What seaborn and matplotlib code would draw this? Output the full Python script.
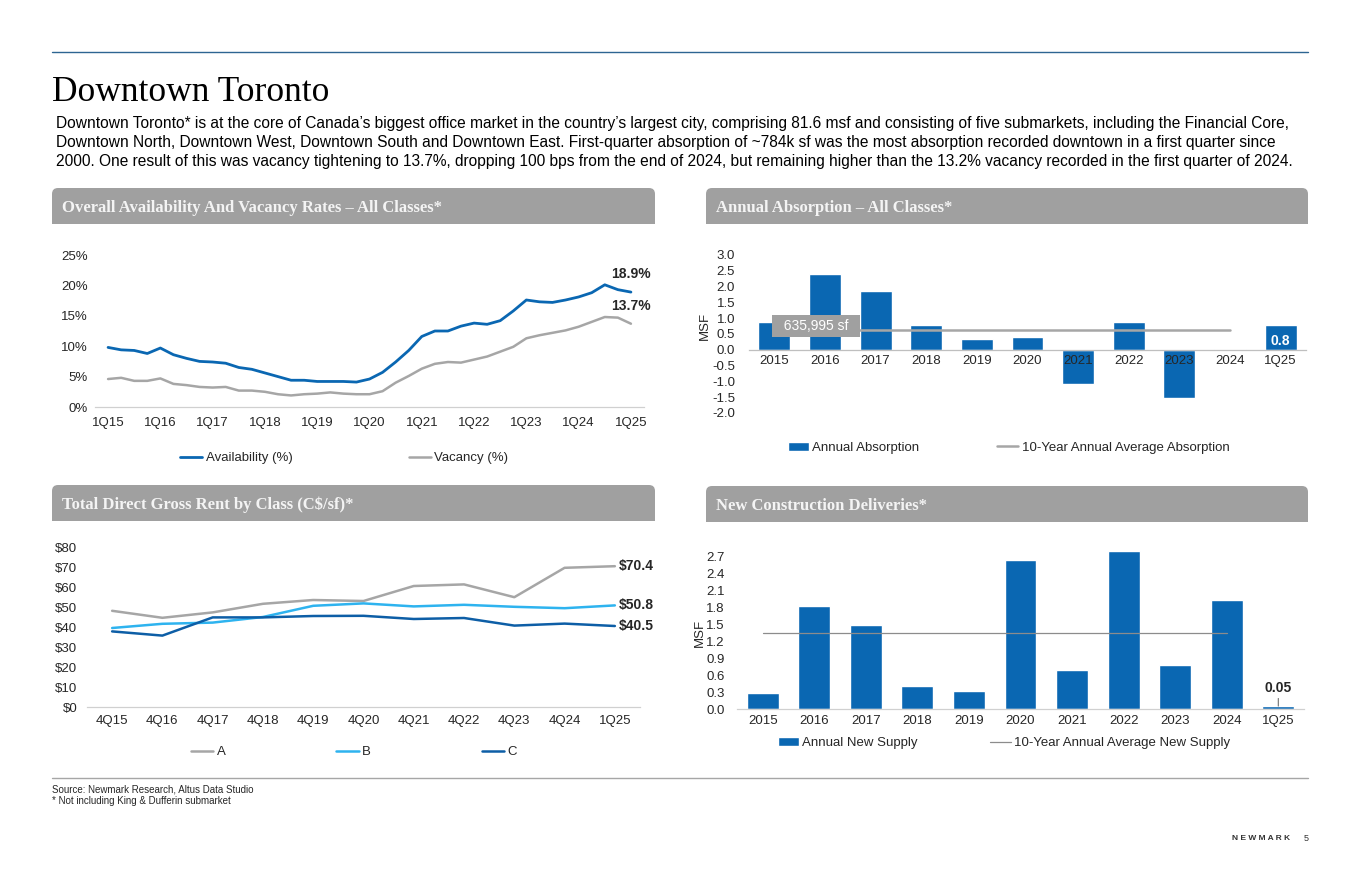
import numpy as np
import pandas as pd
import matplotlib
matplotlib.use('Agg')
import matplotlib.pyplot as plt
from matplotlib.patches import FancyBboxPatch, Rectangle
from matplotlib.lines import Line2D
from matplotlib.ticker import FuncFormatter, MultipleLocator
import seaborn as sns

# --- data ---
quarters = [f"{q}Q{y}" for y in range(15, 26) for q in range(1, 5)][:41]
availability = [9.8, 9.4, 9.3, 8.8, 9.7, 8.6, 8.0, 7.5, 7.4, 7.2, 6.5, 6.2,
                5.6, 5.0, 4.4, 4.4, 4.2, 4.2, 4.2, 4.1, 4.6, 5.7, 7.4, 9.3,
                11.6, 12.5, 12.5, 13.3, 13.8, 13.6, 14.2, 15.8, 17.6, 17.3,
                17.2, 17.6, 18.1, 18.8, 20.1, 19.3, 18.9]
vacancy = [4.6, 4.8, 4.3, 4.3, 4.7, 3.8, 3.6, 3.3, 3.2, 3.3, 2.7, 2.7,
           2.5, 2.1, 1.9, 2.1, 2.2, 2.4, 2.2, 2.1, 2.1, 2.6, 4.0, 5.1,
           6.3, 7.1, 7.4, 7.3, 7.8, 8.3, 9.1, 9.9, 11.3, 11.8, 12.2, 12.6,
           13.2, 14.0, 14.8, 14.7, 13.7]

years = ['2015', '2016', '2017', '2018', '2019', '2020', '2021', '2022', '2023', '2024', '1Q25']
absorption = [0.89, 2.39, 1.87, 0.80, 0.33, 0.41, -1.07, 0.89, -1.51, 0.03, 0.79]
avg_absorption_sf = 635995
new_supply = [0.29, 1.82, 1.48, 0.41, 0.32, 2.63, 0.69, 2.80, 0.78, 1.93, 0.05]
avg_supply = 1.35

rent_periods = ['4Q15', '4Q16', '4Q17', '4Q18', '4Q19', '4Q20', '4Q21', '4Q22', '4Q23', '4Q24', '1Q25']
rent_a = [48.1, 44.6, 47.3, 51.6, 53.5, 53.0, 60.5, 61.3, 54.9, 69.6, 70.4]
rent_b = [39.5, 41.6, 42.2, 45.0, 50.6, 51.8, 50.3, 51.1, 50.1, 49.4, 50.8]
rent_c = [37.8, 35.7, 44.8, 44.8, 45.5, 45.6, 44.0, 44.5, 40.7, 41.7, 40.5]

BLUE = '#0a67b2'
GRAY = '#a6a6a6'
LIGHTBLUE = '#2eb3ef'
DARKBLUE = '#0d5ea6'
TXT = '#262626'

sns.set_theme(style='white')
plt.rcParams['font.family'] = ['Liberation Sans', 'DejaVu Sans']

W, H = 1360, 880
fig = plt.figure(figsize=(W / 100, H / 100), dpi=100)


def box(l, t, r, b):
    return [l / W, 1 - b / H, (r - l) / W, (b - t) / H]


def fxy(x, y):
    return x / W, 1 - y / H


# --- page furniture ---
fig.add_artist(Line2D([52 / W, 1308 / W], [1 - 52 / H] * 2, color='#2d6592', lw=1))
fig.add_artist(Line2D([52 / W, 1308 / W], [1 - 778 / H] * 2, color='#a6a6a6', lw=1))

fig.text(*fxy(52, 101), 'Downtown Toronto', family='Liberation Serif', fontsize=25.5,
         color='black', va='baseline')
para = [
    "Downtown Toronto* is at the core of Canada’s biggest office market in the country’s largest city, comprising 81.6 msf and consisting of five submarkets, including the Financial Core,",
    "Downtown North, Downtown West, Downtown South and Downtown East. First-quarter absorption of ~784k sf was the most absorption recorded downtown in a first quarter since",
    "2000. One result of this was vacancy tightening to 13.7%, dropping 100 bps from the end of 2024, but remaining higher than the 13.2% vacancy recorded in the first quarter of 2024.",
]
for i, line in enumerate(para):
    fig.text(*fxy(56, 128 + i * 19), line, fontsize=11.2, color='black', va='baseline')

headers = [
    (52, 188, 655, 224, 'Overall Availability And Vacancy Rates – All Classes*'),
    (706, 188, 1308, 224, 'Annual Absorption – All Classes*'),
    (52, 485, 655, 521, 'Total Direct Gross Rent by Class (C$/sf)*'),
    (706, 486, 1308, 522, 'New Construction Deliveries*'),
]
for l, t, r, b, title in headers:
    fig.patches.append(FancyBboxPatch((l / 100, (H - b) / 100), (r - l) / 100, (b - t) / 100,
                                      boxstyle='round,pad=0,rounding_size=0.06',
                                      transform=fig.dpi_scale_trans, fc='#a0a0a0', ec='none'))
    fig.patches.append(Rectangle((l / 100, (H - b) / 100), (r - l) / 100, (b - t) / 200,
                                 transform=fig.dpi_scale_trans, fc='#a0a0a0', ec='none'))
    fig.text(*fxy(l + 10, (t + b) / 2 + 2), title, family='Liberation Serif', weight='bold',
             fontsize=12, color='#f4f4f4', va='center')

fig.text(*fxy(52, 789), 'Source: Newmark Research, Altus Data Studio', fontsize=7, color=TXT, va='center')
fig.text(*fxy(52, 801), '* Not including King & Dufferin submarket', fontsize=7, color=TXT, va='center')
fig.text(*fxy(1290, 838), 'N E W M A R K', fontsize=6, weight='bold', color='#333333', va='center', ha='right')
fig.text(*fxy(1306, 838), '5', fontsize=6.5, color='#333333', va='center', ha='center')


def clean(ax):
    for s in ['top', 'right', 'left']:
        ax.spines[s].set_visible(False)
    ax.spines['bottom'].set_color('#d0d0d0')
    ax.spines['bottom'].set_linewidth(0.9)
    ax.tick_params(length=0, labelsize=9.5, labelcolor=TXT)
    ax.set_xlabel('')
    ax.set_ylabel('')


# --- availability & vacancy ---
ax1 = fig.add_axes(box(95, 255, 644, 407))
df1 = pd.DataFrame({'pos': range(len(quarters)), 'Availability (%)': availability,
                    'Vacancy (%)': vacancy})
sns.lineplot(data=df1, x='pos', y='Vacancy (%)', color=GRAY, lw=1.8, ax=ax1, label='Vacancy (%)')
sns.lineplot(data=df1, x='pos', y='Availability (%)', color=BLUE, lw=2.0, ax=ax1, label='Availability (%)')
ax1.set_xlim(-1, len(quarters))
ax1.set_ylim(0, 25)
ax1.yaxis.set_major_locator(MultipleLocator(5))
ax1.yaxis.set_major_formatter(FuncFormatter(lambda v, _: f"{v:.0f}%"))
ax1.set_xticks(range(0, len(quarters), 4))
ax1.set_xticklabels(quarters[::4])
clean(ax1)
ax1.tick_params(axis='x', pad=7)
ax1.tick_params(axis='y', pad=5)
last = len(quarters) - 1
for series in (availability, vacancy):
    ax1.annotate(f"{series[-1]}%", xy=(last, series[-1]), xytext=(0, 8), textcoords='offset points',
                 ha='center', va='bottom', fontsize=10, weight='bold', color=TXT)
h1, l1 = ax1.get_legend_handles_labels()
ax1.legend(h1[::-1], l1[::-1], loc='center left', bbox_to_anchor=fxy(180, 458),
           bbox_transform=fig.transFigure, ncol=2, frameon=False, borderpad=0, borderaxespad=0,
           handlelength=1.7, handletextpad=0.25, columnspacing=8.8, fontsize=9.5, labelcolor=TXT)

# --- annual absorption ---
ax2 = fig.add_axes(box(749, 255, 1306, 413))
sns.barplot(x=years, y=absorption, color=BLUE, saturation=1, width=0.63, ax=ax2,
            label='Annual Absorption')
avg_abs = avg_absorption_sf / 1e6
avg_line, = ax2.plot(range(len(years) - 1), [avg_abs] * (len(years) - 1), color=GRAY, lw=1.8,
                     label='10-Year Annual Average Absorption')
ax2.set_xlim(-0.5, len(years) - 0.5)
ax2.set_ylim(-2, 3)
ax2.yaxis.set_major_locator(MultipleLocator(0.5))
ax2.yaxis.set_major_formatter(FuncFormatter(lambda v, _: f"{v:.1f}"))
clean(ax2)
ax2.spines['bottom'].set_position(('data', 0))
ax2.spines['bottom'].set_color('#bfbfbf')
ax2.xaxis.set_zorder(5)
ax2.tick_params(axis='x', pad=4)
ax2.tick_params(axis='y', pad=10)
ax2.set_ylabel('MSF', fontsize=9.5, color=TXT)
ax2.yaxis.set_label_coords(-0.068, 0.55)
ax2.text(0.82, avg_abs + 0.12, f"  {avg_absorption_sf:,} sf  ", ha='center', va='center', fontsize=10,
         color='white', zorder=6, bbox=dict(boxstyle='square,pad=0.3', fc='#a0a0a0', ec='none'))
bars2 = ax2.containers[0]
ax2.bar_label(bars2, labels=[''] * (len(years) - 1) + [f"{absorption[-1]:.1f}"], label_type='edge',
              padding=-17, color='white', weight='bold', fontsize=10)
ax2.legend([bars2, avg_line], ['Annual Absorption', '10-Year Annual Average Absorption'],
           loc='center left', bbox_to_anchor=fxy(788, 448), bbox_transform=fig.transFigure, ncol=2,
           frameon=False, borderpad=0, borderaxespad=0, handlelength=1.6, handletextpad=0.25,
           columnspacing=5.9, fontsize=9.5, labelcolor=TXT)

# --- rent ---
ax3 = fig.add_axes(box(87, 547, 640, 707))
df3 = pd.DataFrame({'pos': range(len(rent_periods)), 'A': rent_a, 'B': rent_b, 'C': rent_c})
for name, col in [('A', GRAY), ('B', LIGHTBLUE), ('C', DARKBLUE)]:
    sns.lineplot(data=df3, x='pos', y=name, color=col, lw=1.8, ax=ax3, label=name)
ax3.set_xlim(-0.5, len(rent_periods) - 0.5)
ax3.set_ylim(0, 80)
ax3.yaxis.set_major_locator(MultipleLocator(10))
ax3.yaxis.set_major_formatter(FuncFormatter(lambda v, _: f"${v:.0f}"))
ax3.set_xticks(range(len(rent_periods)))
ax3.set_xticklabels(rent_periods)
clean(ax3)
ax3.tick_params(axis='x', pad=6)
ax3.tick_params(axis='y', pad=7)
for series in (rent_a, rent_b, rent_c):
    ax3.annotate(f"${series[-1]:.1f}", xy=(len(rent_periods) - 1, series[-1]), xytext=(3, 0),
                 textcoords='offset points', ha='left', va='center', fontsize=10, weight='bold',
                 color=TXT)
ax3.legend(loc='center left', bbox_to_anchor=fxy(191, 752), bbox_transform=fig.transFigure, ncol=3,
           frameon=False, borderpad=0, borderaxespad=0, handlelength=1.7, handletextpad=0.25,
           columnspacing=8.4, fontsize=9.5, labelcolor=TXT)

# --- new construction ---
ax4 = fig.add_axes(box(737, 548, 1304, 709))
sns.barplot(x=years, y=new_supply, color=BLUE, saturation=1, width=0.62, ax=ax4,
            label='Annual New Supply')
sup_line, = ax4.plot(range(len(years) - 1), [avg_supply] * (len(years) - 1), color='#8c8c8c', lw=0.9,
                     label='10-Year Annual Average New Supply')
ax4.set_xlim(-0.5, len(years) - 0.5)
ax4.set_ylim(0, 2.85)
ax4.set_yticks(np.arange(0, 2.71, 0.3))
ax4.yaxis.set_major_formatter(FuncFormatter(lambda v, _: f"{v:.1f}"))
clean(ax4)
ax4.tick_params(axis='x', pad=4)
ax4.tick_params(axis='y', pad=9)
ax4.set_ylabel('MSF', fontsize=9.5, color=TXT)
ax4.yaxis.set_label_coords(-0.055, 0.47)
ax4.annotate(f"{new_supply[-1]:.2f}", xy=(len(years) - 1, new_supply[-1]), xytext=(0, 8),
             textcoords='offset points', ha='center', va='bottom', fontsize=10, weight='bold',
             color=TXT, arrowprops=dict(arrowstyle='-', color='#404040', lw=0.6, shrinkA=0, shrinkB=0))
bars4 = ax4.containers[0]
ax4.legend([bars4, sup_line], ['Annual New Supply', '10-Year Annual Average New Supply'],
           loc='center left', bbox_to_anchor=fxy(778, 743), bbox_transform=fig.transFigure, ncol=2,
           frameon=False, borderpad=0, borderaxespad=0, handlelength=1.6, handletextpad=0.25,
           columnspacing=5.45, fontsize=9.5, labelcolor=TXT)

fig.savefig('out.png', dpi=100)
